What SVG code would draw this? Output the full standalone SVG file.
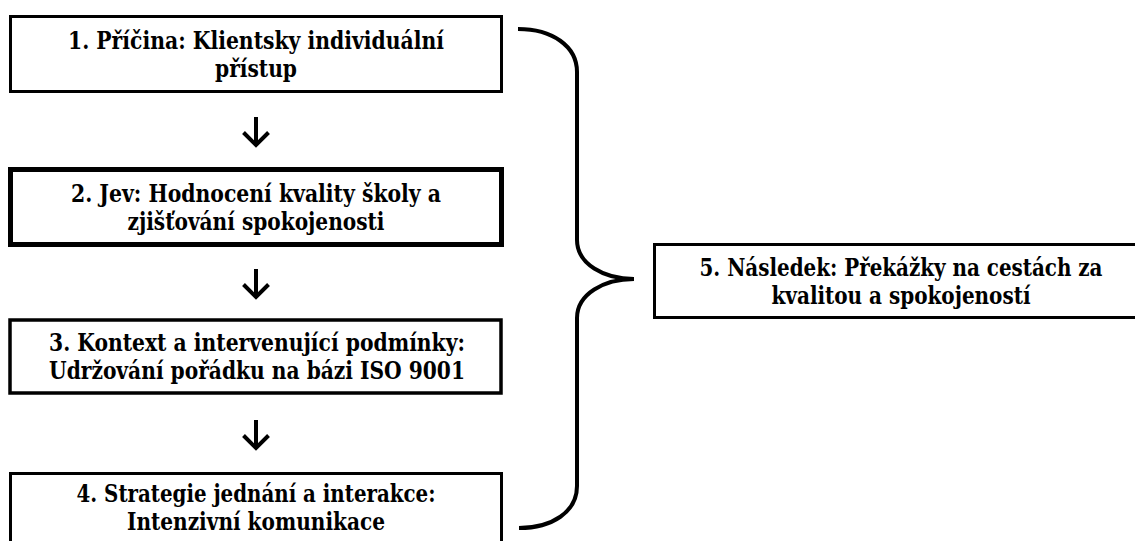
<svg xmlns="http://www.w3.org/2000/svg" width="1135" height="541" viewBox="0 0 1135 541">
  <style>
    .box { fill: #ffffff; stroke: #000000; stroke-width: 3; }
    .box-strong { stroke-width: 5; }
    .label { font-family: "DejaVu Serif Condensed", "DejaVu Serif", serif; font-stretch: condensed; font-weight: 700; font-size: 24.5px; fill: #000000; text-anchor: middle; }
    .link { fill: none; stroke: #000000; stroke-width: 4; stroke-linecap: butt; stroke-linejoin: miter; }
    .brace { fill: none; stroke: #000000; stroke-width: 4; stroke-linecap: butt; }
  </style>
  <rect x="0" y="0" width="1135" height="541" fill="#ffffff"/>

  <g id="node-1">
    <rect class="box" x="10.5" y="16.5" width="491" height="75"/>
    <text class="label" x="256" y="49" textLength="376" lengthAdjust="spacingAndGlyphs">1. Příčina: Klientsky individuální</text>
    <text class="label" x="256" y="77" textLength="82" lengthAdjust="spacingAndGlyphs">přístup</text>
  </g>

  <g id="node-2">
    <rect class="box box-strong" x="10.5" y="169.5" width="491" height="75"/>
    <text class="label" x="256" y="202" textLength="370" lengthAdjust="spacingAndGlyphs">2. Jev: Hodnocení kvality školy a</text>
    <text class="label" x="256" y="230" textLength="257" lengthAdjust="spacingAndGlyphs">zjišťování spokojenosti</text>
  </g>

  <g id="node-3">
    <rect class="box" x="10" y="320" width="491" height="73" style="stroke-width:3.5"/>
    <text class="label" x="257" y="351" textLength="416" lengthAdjust="spacingAndGlyphs">3. Kontext a intervenující podmínky:</text>
    <text class="label" x="257" y="379" textLength="416" lengthAdjust="spacingAndGlyphs">Udržování pořádku na bázi ISO 9001</text>
  </g>

  <g id="node-4">
    <rect class="box" x="10.5" y="473.5" width="491" height="80"/>
    <text class="label" x="256" y="502" textLength="359" lengthAdjust="spacingAndGlyphs">4. Strategie jednání a interakce:</text>
    <text class="label" x="256" y="530" textLength="258" lengthAdjust="spacingAndGlyphs">Intenzivní komunikace</text>
  </g>

  <g id="node-5">
    <rect class="box" x="654.5" y="244.5" width="500" height="73"/>
    <text class="label" x="901" y="276" textLength="403" lengthAdjust="spacingAndGlyphs">5. Následek: Překážky na cestách za</text>
    <text class="label" x="901" y="304" textLength="259" lengthAdjust="spacingAndGlyphs">kvalitou a spokojeností</text>
  </g>

  <g id="connectors">
    <!-- downward arrows between the stacked steps -->
    <path class="link" d="M256,117 V145 M243.5,132.5 L256,145 L268.5,132.5"/>
    <path class="link" d="M256,269 V297 M243.5,284.5 L256,297 L268.5,284.5"/>
    <path class="link" d="M256,420 V448 M243.5,435.5 L256,448 L268.5,435.5"/>
    <!-- curly brace gathering steps 1-4 into the consequence -->
    <path class="brace" d="M518,29 C552,29 577,46 577,72 V240 C577,264 604,279 634,279 C604,279 577,294 577,318 V486 C577,512 552,528 519,528"/>
  </g>
</svg>
